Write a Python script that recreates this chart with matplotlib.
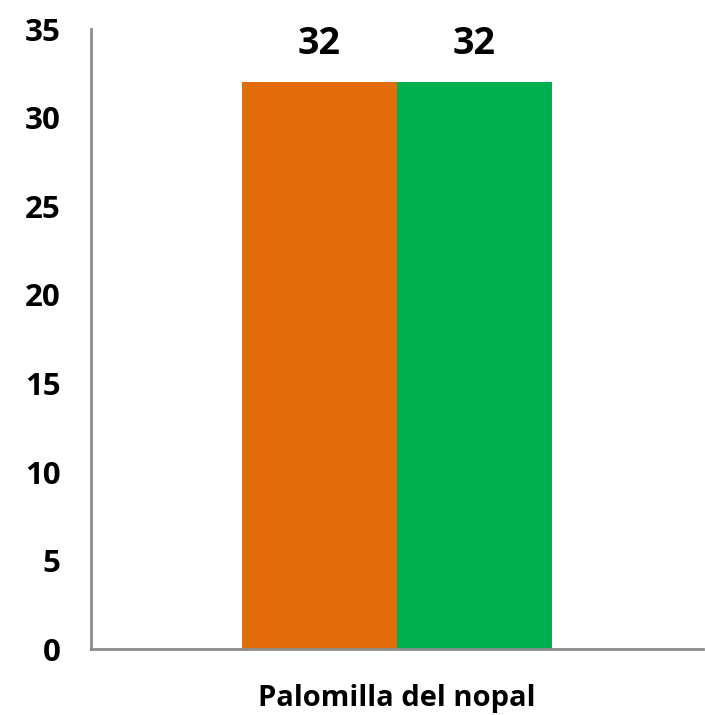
import numpy as np
import matplotlib.pyplot as plt

plt.rcParams['font.family'] = ['Open Sans', 'DejaVu Sans']
plt.rcParams['font.weight'] = 'bold'

# data
category = 'Palomilla del nopal'
series_values = [32, 32]
series_colors = ['#E36C0A', '#00B050']
y_ticks = [0, 5, 10, 15, 20, 25, 30, 35]

fig = plt.figure(figsize=(7.05, 7.15), dpi=100)
ax = fig.add_axes([0.129, 0.092, 0.868, 0.867])

width = 0.253
offsets = [-width / 2, width / 2]
for off, val, col in zip(offsets, series_values, series_colors):
    ax.bar(off, val, width=width, color=col)
    ax.text(off, val + 1.58, str(val), ha='center', va='baseline',
            fontsize=27, fontweight='bold')

ax.set_xlim(-0.5, 0.5)
ax.set_ylim(0, 35)
ax.set_yticks(y_ticks)
ax.set_xticks([0])
ax.set_xticklabels([category])
ax.tick_params(axis='y', length=0, labelsize=22.5, pad=22)
ax.tick_params(axis='x', length=0, labelsize=21, pad=25)

for s in ['top', 'right']:
    ax.spines[s].set_visible(False)
for s in ['left', 'bottom']:
    ax.spines[s].set_color('#8C8C8C')
    ax.spines[s].set_linewidth(2)

fig.savefig('out.png', dpi=100)
